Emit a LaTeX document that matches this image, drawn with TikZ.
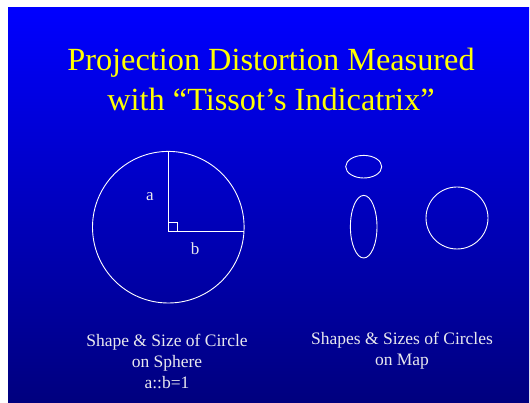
\documentclass[tikz,border=0pt]{standalone}
\usepackage{fontspec}
\setmainfont{Liberation Serif}
\usepackage{xcolor}
\usepackage{tikz}
\usetikzlibrary{positioning,calc}
\definecolor{slideTop}{HTML}{0000FF}
\definecolor{slideBot}{HTML}{00007E}
\definecolor{titleY}{HTML}{FFFF00}
\definecolor{capW}{HTML}{E8E8EE}

\begin{document}
\begin{tikzpicture}[x=1pt, y=-1pt]
\tikzset{
  ring/.style={draw=white, line width=0.9pt},
  caption/.style={font=\fontsize{17.5}{21}\selectfont, text=capW, align=center, inner sep=0pt},
  side/.style={font=\fontsize{17}{20}\selectfont, text=capW, inner sep=0pt}
}
\useasboundingbox (0,0) rectangle (530,403);
\shade[top color=slideTop, bottom color=slideBot] (8,8) rectangle (529,403);
% title
\node[font=\fontsize{32.3}{40}\selectfont, text=titleY, align=center, inner sep=0pt] (title) at (271,79) {Projection Distortion Measured\\with \textquotedblleft Tissot\textquoteright s Indicatrix\textquotedblright};
% circle on the sphere
\coordinate (o) at (168.3,231);
\coordinate (top) at (168.3,151.5);
\coordinate (rt) at (244,231);
\draw[ring] (168.3,227.2) circle (75.8);
\draw[ring, line width=0.7pt] (top) -- (o) -- (rt);
\draw[white, line width=0.6pt] ($(o)+(0,-9)$) -| ($(o)+(9,0)$);
\node[side] (a) at (150,197) {a};
\node[side] (b) at (195,249) {b};
% circles on the map
\draw[ring] (363.7,166.7) ellipse (18 and 11.3);
\draw[ring] (363.7,226.7) ellipse (13.3 and 31.3);
\draw[ring] (457,218) circle (31);
% captions
\node[caption] (sphere) at (167,361) {Shape \& Size of Circle\\on Sphere\\a::b=1};
\node[caption] (map) at (402,351) {Shapes \& Sizes of Circles\\on Map};
\end{tikzpicture}
\end{document}
